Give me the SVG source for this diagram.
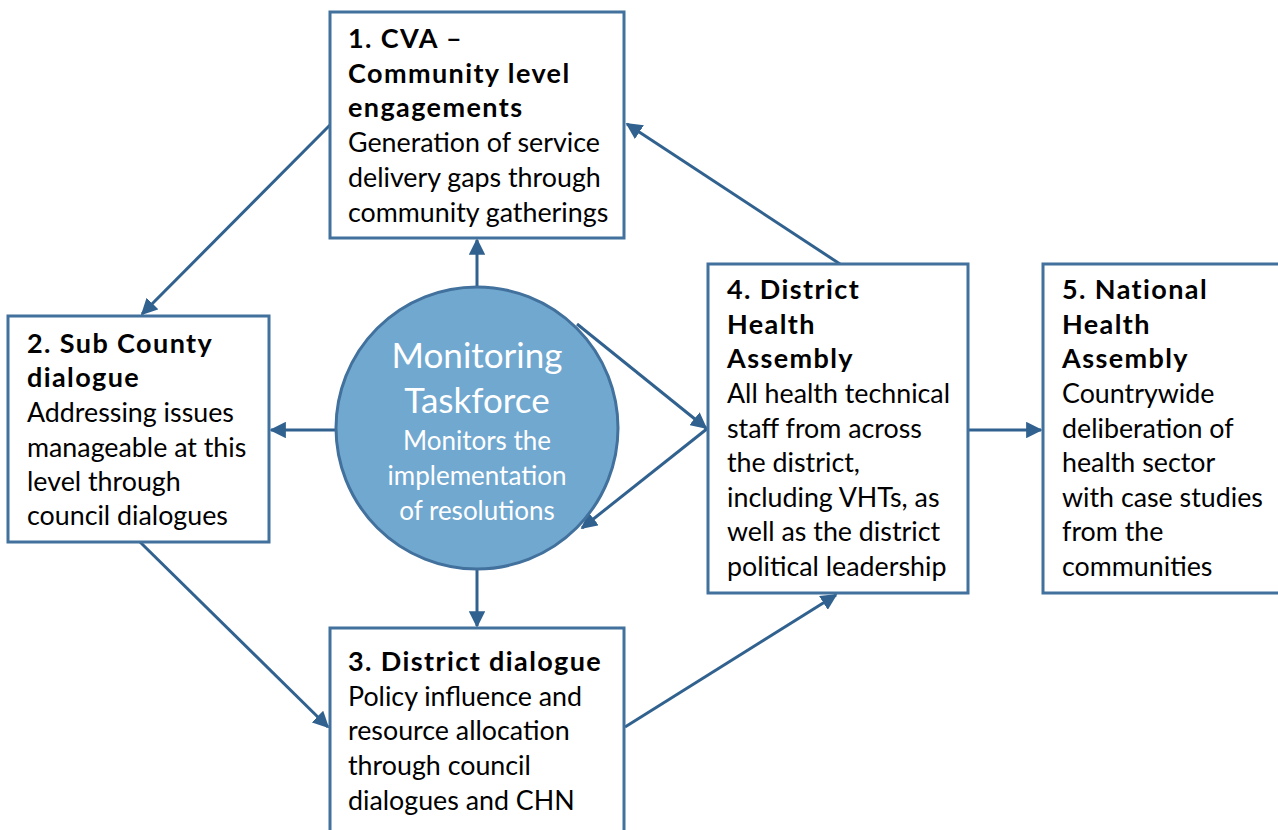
<svg xmlns="http://www.w3.org/2000/svg" width="1278" height="830" viewBox="0 0 1278 830">
<defs>
<style>
.box{fill:#ffffff;stroke:#41719c;stroke-width:3}
.t{font-family:Lato,"Open Sans","Liberation Sans",sans-serif;font-size:26.8px;fill:#000}
.b{font-weight:bold;font-size:27px;letter-spacing:1.4px}
.w{font-family:Lato,"Open Sans","Liberation Sans",sans-serif;fill:#ffffff;text-anchor:middle}
.c{fill:none;stroke:#31628f;stroke-width:3}
</style>
<marker id="ah" viewBox="0 0 10 10" refX="9" refY="5" markerWidth="5.5" markerHeight="5.5" markerUnits="strokeWidth" orient="auto">
<path d="M0,0 L10,5 L0,10 z" fill="#31628f"/>
</marker>
</defs>
<rect width="1278" height="830" fill="#ffffff"/>
<g id="connectors">
<line class="c" x1="477" y1="287" x2="477" y2="240" marker-end="url(#ah)"/>
<line class="c" x1="335" y1="430" x2="271" y2="430" marker-end="url(#ah)"/>
<line class="c" x1="477" y1="569" x2="477" y2="626" marker-end="url(#ah)"/>
<line class="c" x1="577" y1="324" x2="706" y2="428" marker-end="url(#ah)"/>
<line class="c" x1="708" y1="428" x2="582" y2="528" marker-end="url(#ah)"/>
<line class="c" x1="330" y1="125" x2="142" y2="314" marker-end="url(#ah)"/>
<line class="c" x1="140" y1="542" x2="328" y2="727" marker-end="url(#ah)"/>
<line class="c" x1="625" y1="727" x2="836" y2="595" marker-end="url(#ah)"/>
<line class="c" x1="840" y1="264" x2="627" y2="124" marker-end="url(#ah)"/>
<line class="c" x1="968" y1="430" x2="1041" y2="430" marker-end="url(#ah)"/>
</g>
<g id="node1">
<rect class="box" x="330" y="12" width="294" height="226"/>
<text class="t b" x="348" y="48">1. CVA –</text>
<text class="t b" x="348" y="83">Community level</text>
<text class="t b" x="348" y="117">engagements</text>
<text class="t" x="348" y="152">Generation of service</text>
<text class="t" x="348" y="187">delivery gaps through</text>
<text class="t" x="348" y="222">community gatherings</text>
</g>
<g id="node2">
<rect class="box" x="8" y="316" width="261" height="226"/>
<text class="t b" x="27" y="353">2. Sub County</text>
<text class="t b" x="27" y="387">dialogue</text>
<text class="t" x="27" y="422">Addressing issues</text>
<text class="t" x="27" y="457">manageable at this</text>
<text class="t" x="27" y="491">level through</text>
<text class="t" x="27" y="525">council dialogues</text>
</g>
<g id="node3">
<rect class="box" x="330" y="628" width="294" height="204"/>
<text class="t b" x="348" y="671">3. District dialogue</text>
<text class="t" x="348" y="706">Policy influence and</text>
<text class="t" x="348" y="740">resource allocation</text>
<text class="t" x="348" y="775">through council</text>
<text class="t" x="348" y="810">dialogues and CHN</text>
</g>
<g id="node4">
<rect class="box" x="708" y="264" width="260" height="329"/>
<text class="t b" x="727" y="299">4. District</text>
<text class="t b" x="727" y="334">Health</text>
<text class="t b" x="727" y="368">Assembly</text>
<text class="t" x="727" y="403">All health technical</text>
<text class="t" x="727" y="438">staff from across</text>
<text class="t" x="727" y="472">the district,</text>
<text class="t" x="727" y="507">including VHTs, as</text>
<text class="t" x="727" y="541">well as the district</text>
<text class="t" x="727" y="576">political leadership</text>
</g>
<g id="node5">
<rect class="box" x="1043" y="264" width="240" height="329"/>
<text class="t b" x="1062" y="299">5. National</text>
<text class="t b" x="1062" y="334">Health</text>
<text class="t b" x="1062" y="368">Assembly</text>
<text class="t" x="1062" y="403">Countrywide</text>
<text class="t" x="1062" y="438">deliberation of</text>
<text class="t" x="1062" y="472">health sector</text>
<text class="t" x="1062" y="507">with case studies</text>
<text class="t" x="1062" y="541">from the</text>
<text class="t" x="1062" y="576">communities</text>
</g>
<g id="taskforce">
<circle cx="477" cy="428" r="141" fill="#71a8d0" stroke="#41719c" stroke-width="3"/>
<text class="w" x="477" y="368" font-size="35">Monitoring</text>
<text class="w" x="477" y="413" font-size="35">Taskforce</text>
<text class="w" x="477" y="450" font-size="26">Monitors the</text>
<text class="w" x="477" y="485" font-size="26">implementation</text>
<text class="w" x="477" y="520" font-size="26">of resolutions</text>
</g>
</svg>
